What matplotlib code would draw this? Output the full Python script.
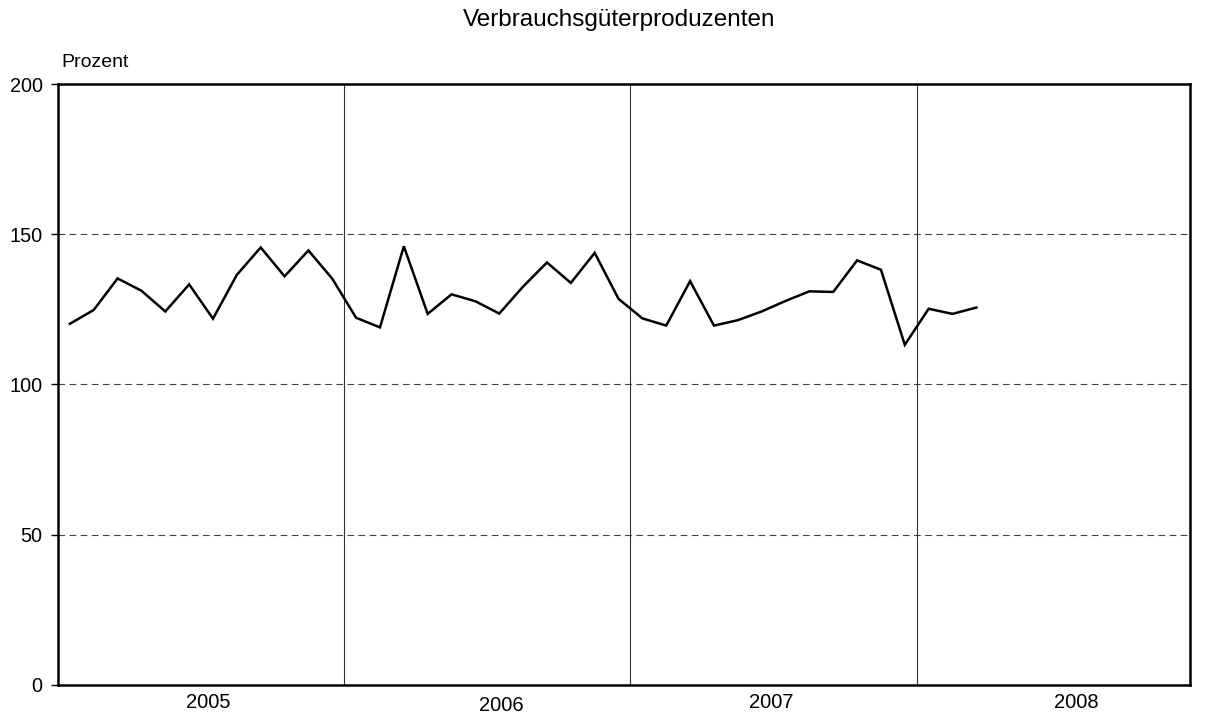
import matplotlib
matplotlib.use('Agg')
import matplotlib.pyplot as plt
import matplotlib.transforms as mtransforms

matplotlib.rcParams['font.family'] = ['Liberation Sans', 'DejaVu Sans']

# Monatswerte Jan 2005 - Mrz 2008
werte_2005 = [120.2, 124.8, 135.3, 131.2, 124.3, 133.3, 121.9, 136.5, 145.6, 136.0, 144.6, 135.2]
werte_2006 = [122.2, 119.0, 146.0, 123.5, 130.0, 127.7, 123.6, 132.6, 140.6, 133.8, 143.8, 128.5]
werte_2007 = [122.0, 119.6, 134.4, 119.6, 121.4, 124.3, 127.8, 131.0, 130.8, 141.3, 138.2, 113.2]
werte_2008 = [125.2, 123.5, 125.6]
jahre = ['2005', '2006', '2007', '2008']
y_ticks = [0, 50, 100, 150, 200]

werte = werte_2005 + werte_2006 + werte_2007 + werte_2008
monate = [i + 0.5 for i in range(len(werte))]

fig = plt.figure(figsize=(12.07, 7.18), dpi=100)
ax = fig.add_axes([0.048, 0.046, 0.938, 0.837])

ax.plot(monate, werte, color='black', linewidth=1.8, solid_joinstyle='miter')

ax.set_xlim(0, 47.46)
ax.set_ylim(0, 200)
ax.set_yticks(y_ticks)
ax.set_yticklabels([str(v) for v in y_ticks], fontsize=14.3)
ax.tick_params(axis='y', length=5, width=1, pad=6, direction='out')
ax.set_xticks([])

for v in [50, 100, 150]:
    ax.axhline(v, color='#444444', linewidth=0.8, linestyle=(0, (6, 4)), zorder=0)
for x in [12, 24, 36]:
    ax.axvline(x, color='#333333', linewidth=0.8, zorder=0)

for s in ax.spines.values():
    s.set_linewidth(1.8)
    s.set_color('black')

# Jahreslabels unter der Achse
trans = mtransforms.blended_transform_factory(ax.transData, ax.transAxes)
lab_x = [6.3, 18.6, 29.9, 42.7]
lab_y = [-0.013, -0.018, -0.013, -0.013]
for j, x, y in zip(jahre, lab_x, lab_y):
    ax.text(x, y, j, transform=trans, ha='center', va='top', fontsize=14.5)

ax.text(0.003, 1.022, 'Prozent', transform=ax.transAxes, ha='left', va='bottom', fontsize=14)
fig.text(0.513, 0.988, 'Verbrauchsgüterproduzenten', ha='center', va='top', fontsize=17.5)

fig.savefig('out.png', dpi=100)
